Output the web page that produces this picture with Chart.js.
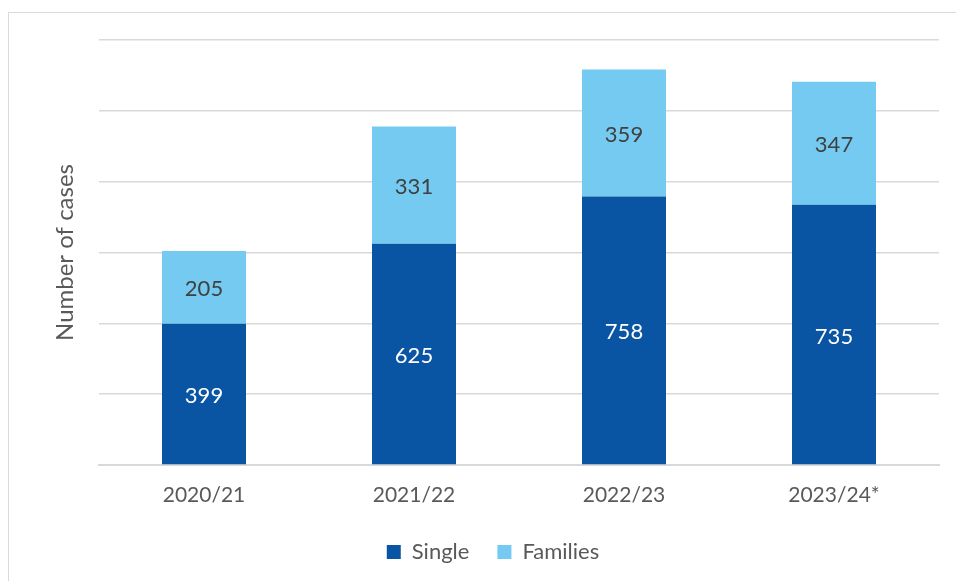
<!DOCTYPE html>
<html>
<head>
<meta charset="utf-8">
<script src="https://cdn.jsdelivr.net/npm/chart.js@4.4.1/dist/chart.umd.min.js"></script>
<style>
  html, body { margin: 0; padding: 0; background: #fff; overflow: hidden; }
  #frame {
    position: absolute; left: 8px; top: 12px; width: 960px; height: 600px;
    border: 1.5px solid #d9d9d9; box-sizing: border-box;
  }
  #wrap { position: absolute; left: 0; top: 0; width: 956px; height: 581px; }
</style>
</head>
<body>
<div id="frame"></div>
<div id="wrap"><canvas id="chart"></canvas></div>
<script>
const years = ['2020/21', '2021/22', '2022/23', '2023/24*'];
const single = [399, 625, 758, 735];
const families = [205, 331, 359, 347];

const FONT = 'Lato, "Open Sans", sans-serif';

// write each segment's value in the middle of its bar piece
const segmentLabels = {
  id: 'segmentLabels',
  afterDatasetsDraw(chart) {
    const ctx = chart.ctx;
    ctx.save();
    ctx.font = '22px ' + FONT;
    ctx.textAlign = 'center';
    ctx.textBaseline = 'middle';
    chart.data.datasets.forEach((ds, i) => {
      const meta = chart.getDatasetMeta(i);
      meta.data.forEach((bar, j) => {
        ctx.fillStyle = i === 0 ? '#ffffff' : '#404040';
        const mid = (bar.y + bar.base) / 2 + 2;
        ctx.fillText(String(ds.data[j]), bar.x, mid);
      });
    });
    ctx.restore();
  }
};

const chartArea = document.getElementById('chart');
const chart = new Chart(chartArea, {
  type: 'bar',
  data: {
    labels: years,
    datasets: [{
      label: 'Single',
      data: single,
      backgroundColor: '#0a55a3',
      barPercentage: 0.4,
      categoryPercentage: 1
    }, {
      label: 'Families',
      data: families,
      backgroundColor: '#74caf0',
      barPercentage: 0.4,
      categoryPercentage: 1
    }]
  },
  options: {
    responsive: true,
    maintainAspectRatio: false,
    animation: false,
    layout: { padding: { left: 47, top: 40, right: 17, bottom: 8 } },
    plugins: {
      tooltip: { enabled: false },
      legend: {
        position: 'bottom',
        labels: {
          boxWidth: 14, boxHeight: 14, padding: 28,
          color: '#595959',
          font: { family: FONT, size: 22 }
        }
      }
    },
    scales: {
      x: {
        stacked: true,
        grid: { display: false },
        border: { color: '#d9d9d9', width: 2 },
        ticks: { color: '#595959', padding: 10, font: { family: FONT, size: 21 } },
        afterFit(scale) { scale.height = 48; }
      },
      y: {
        stacked: true,
        min: 0, max: 1200,
        ticks: { display: false, stepSize: 200 },
        grid: { color: '#d9d9d9', lineWidth: 1.5, drawTicks: false },
        border: { display: false },
        title: {
          display: true, text: 'Number of cases', color: '#595959',
          font: { family: FONT, size: 24 }
        },
        afterFit(scale) { scale.width = 52; }
      }
    }
  },
  plugins: [segmentLabels]
});
</script>
</body>
</html>
